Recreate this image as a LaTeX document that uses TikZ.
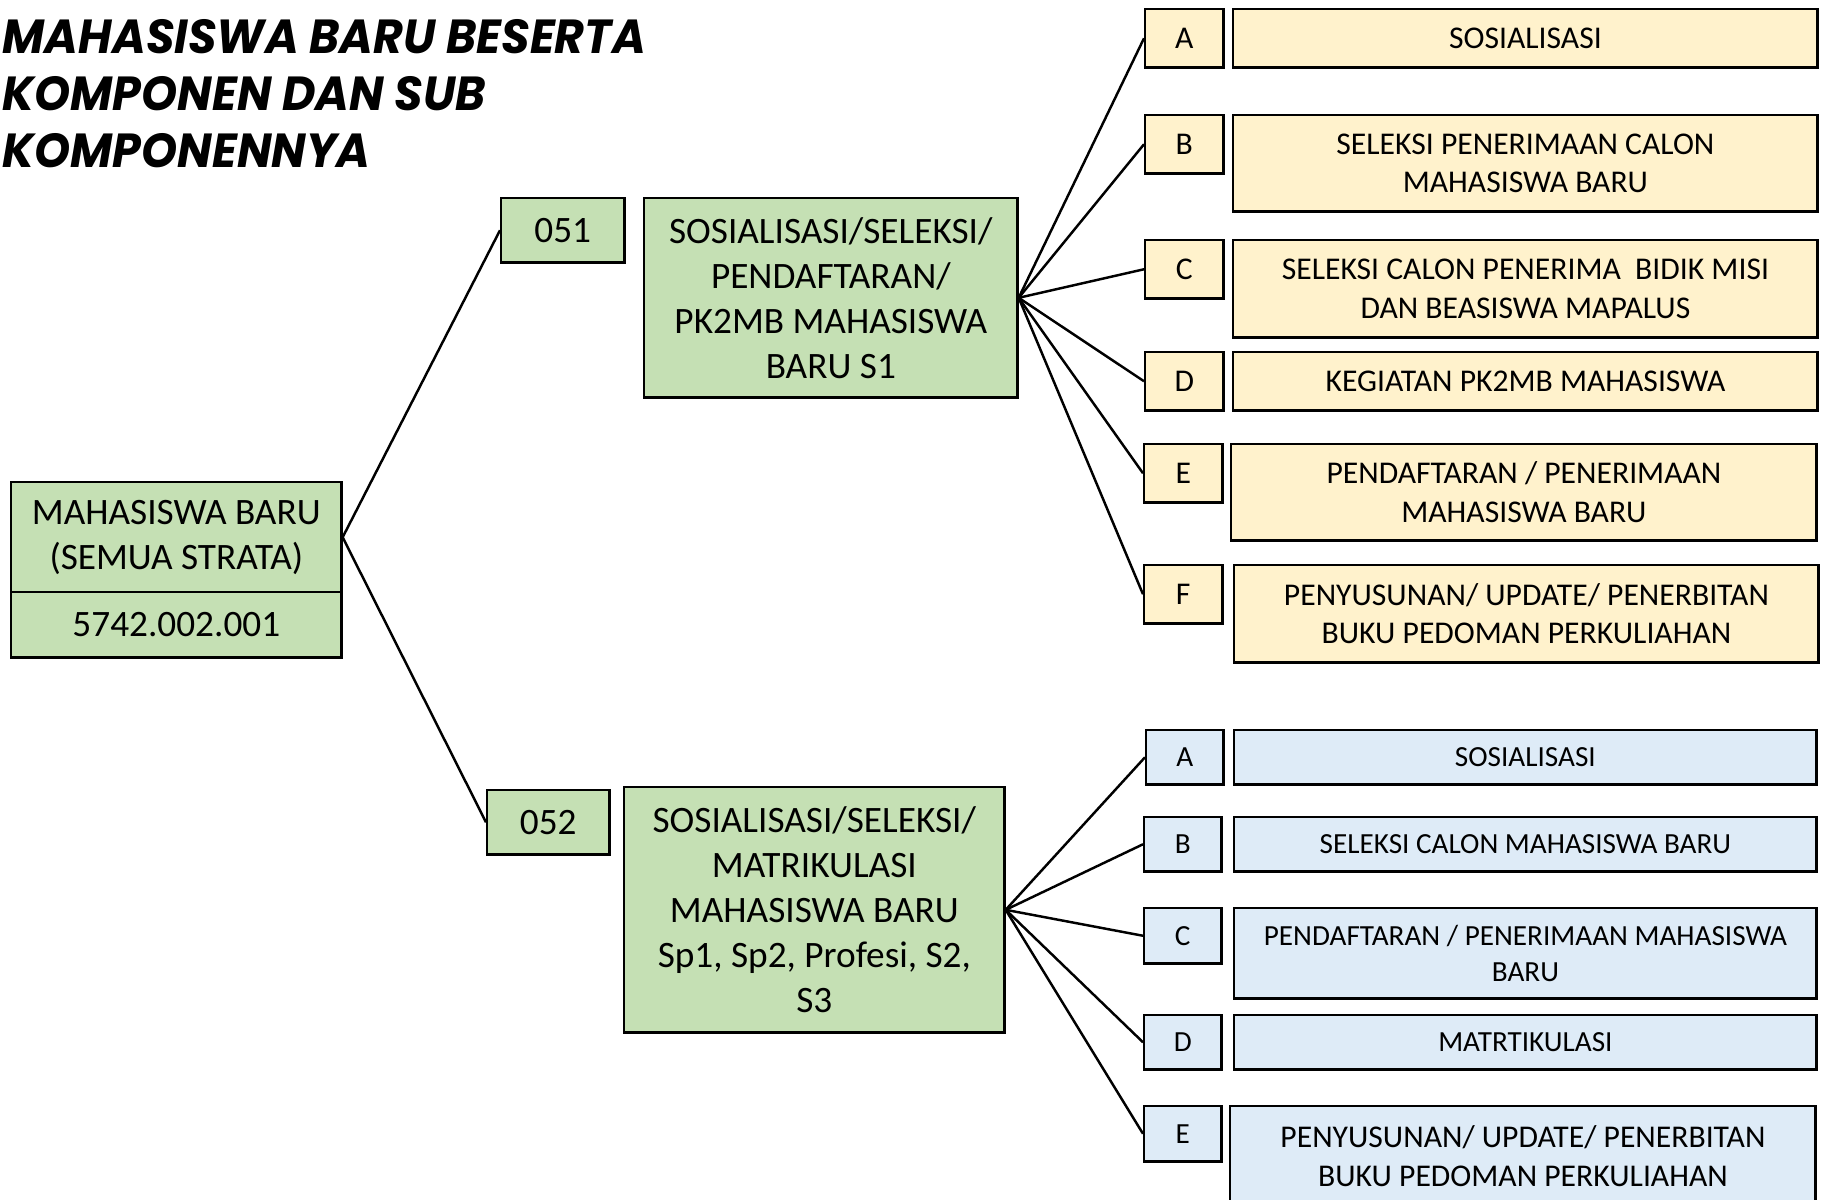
\documentclass[tikz,border=0pt]{standalone}
\usepackage{fontspec}
\setmainfont{Carlito}
\newfontfamily\judulfont{Poppins}[FakeStretch=0.96]
\definecolor{hijau}{HTML}{C5E0B4}
\definecolor{kuning}{HTML}{FFF2CC}
\definecolor{biru}{HTML}{DEEBF7}

\begin{document}
\begin{tikzpicture}[x=0.01cm,y=-0.01cm,
		kotak/.style={draw,line width=0.7pt,inner sep=0pt,align=center,anchor=north west},
		kotakhijau/.style={kotak,fill=hijau,font=\fontsize{10.6}{12.8}\selectfont},
		kotakkuning/.style={kotak,fill=kuning,font=\fontsize{9}{11}\selectfont},
		kotakbiru/.style={kotak,fill=biru,font=\fontsize{8.3}{10.3}\selectfont},
		garis/.style={line width=0.7pt}]
	\useasboundingbox (0,0) rectangle (1827,1199);
	% judul
	\node[anchor=north west,align=left,inner sep=0pt,font=\judulfont\bfseries\itshape\fontsize{13.6}{16.2}\selectfont] (judul) at (2,19) {MAHASISWA BARU BESERTA\\KOMPONEN DAN SUB\\KOMPONENNYA};
	% kegiatan
	\node[kotakhijau,minimum width=3.30cm,minimum height=1.10cm] (induk) at (10,481) {MAHASISWA BARU\\(SEMUA STRATA)};
	\node[kotakhijau,minimum width=3.30cm,minimum height=0.65cm] (kode) at (10,591) {5742.002.001};
	% output
	\node[kotakhijau,minimum width=1.23cm,minimum height=0.64cm] (k051) at (500,197) {051};
	\node[kotakhijau,minimum width=3.73cm,minimum height=1.99cm] (s1) at (643,197) {SOSIALISASI/SELEKSI/\\PENDAFTARAN/\\PK2MB MAHASISWA\\BARU S1};
	\node[kotakhijau,minimum width=1.22cm,minimum height=0.64cm] (k052) at (486,789) {052};
	\node[kotakhijau,minimum width=3.80cm,minimum height=2.45cm] (sp) at (623,786) {SOSIALISASI/SELEKSI/\\MATRIKULASI\\MAHASISWA BARU\\Sp1, Sp2, Profesi, S2,\\S3};
	% komponen S1
	\node[kotakkuning,minimum width=0.78cm,minimum height=0.58cm] (ya) at (1144,8) {A};
	\node[kotakkuning,minimum width=5.84cm,minimum height=0.58cm] (yta) at (1232,8) {SOSIALISASI};
	\node[kotakkuning,minimum width=0.78cm,minimum height=0.58cm] (yb) at (1144,114) {B};
	\node[kotakkuning,minimum width=5.84cm,minimum height=0.96cm] (ytb) at (1232,114) {SELEKSI PENERIMAAN CALON\\MAHASISWA BARU};
	\node[kotakkuning,minimum width=0.78cm,minimum height=0.58cm] (yc) at (1144,239) {C};
	\node[kotakkuning,minimum width=5.84cm,minimum height=0.97cm] (ytc) at (1232,239) {SELEKSI CALON PENERIMA\ \ BIDIK MISI\\DAN BEASISWA MAPALUS};
	\node[kotakkuning,minimum width=0.78cm,minimum height=0.58cm] (yd) at (1144,351) {D};
	\node[kotakkuning,minimum width=5.84cm,minimum height=0.58cm] (ytd) at (1232,351) {KEGIATAN PK2MB MAHASISWA};
	\node[kotakkuning,minimum width=0.78cm,minimum height=0.58cm] (ye) at (1143,443) {E};
	\node[kotakkuning,minimum width=5.85cm,minimum height=0.96cm] (yte) at (1230,443) {PENDAFTARAN / PENERIMAAN\\MAHASISWA BARU};
	\node[kotakkuning,minimum width=0.78cm,minimum height=0.58cm] (yf) at (1143,564) {F};
	\node[kotakkuning,minimum width=5.84cm,minimum height=0.97cm] (ytf) at (1233,564) {PENYUSUNAN/ UPDATE/ PENERBITAN\\BUKU PEDOMAN PERKULIAHAN};
	% komponen pascasarjana
	\node[kotakbiru,minimum width=0.77cm,minimum height=0.54cm] (ba) at (1145,729) {A};
	\node[kotakbiru,minimum width=5.82cm,minimum height=0.54cm] (bta) at (1233,729) {SOSIALISASI};
	\node[kotakbiru,minimum width=0.77cm,minimum height=0.54cm] (bb) at (1143,816) {B};
	\node[kotakbiru,minimum width=5.82cm,minimum height=0.54cm] (btb) at (1233,816) {SELEKSI CALON MAHASISWA BARU};
	\node[kotakbiru,minimum width=0.77cm,minimum height=0.55cm] (bc) at (1143,907) {C};
	\node[kotakbiru,minimum width=5.82cm,minimum height=0.90cm] (btc) at (1233,907) {PENDAFTARAN / PENERIMAAN MAHASISWA\\BARU};
	\node[kotakbiru,minimum width=0.77cm,minimum height=0.54cm] (bd) at (1143,1014) {D};
	\node[kotakbiru,minimum width=5.82cm,minimum height=0.54cm] (btd) at (1233,1014) {MATRTIKULASI};
	\node[kotakbiru,minimum width=0.77cm,minimum height=0.55cm] (be) at (1143,1105) {E};
	\node[kotakbiru,minimum width=5.85cm,minimum height=1.00cm,font=\fontsize{9}{11}\selectfont] (bte) at (1229,1105) {PENYUSUNAN/ UPDATE/ PENERBITAN\\BUKU PEDOMAN PERKULIAHAN};
	% garis
	\draw[garis] (induk.east) -- (k051.west);
	\draw[garis] (induk.east) -- (k052.west);
	\foreach \h in {a,b,c,d,e,f}{
		\draw[garis] (s1.east) -- (y\h.west);
	}
	\foreach \h in {a,b,c,d,e}{
		\draw[garis] (sp.east) -- (b\h.west);
	}
\end{tikzpicture}
\end{document}
